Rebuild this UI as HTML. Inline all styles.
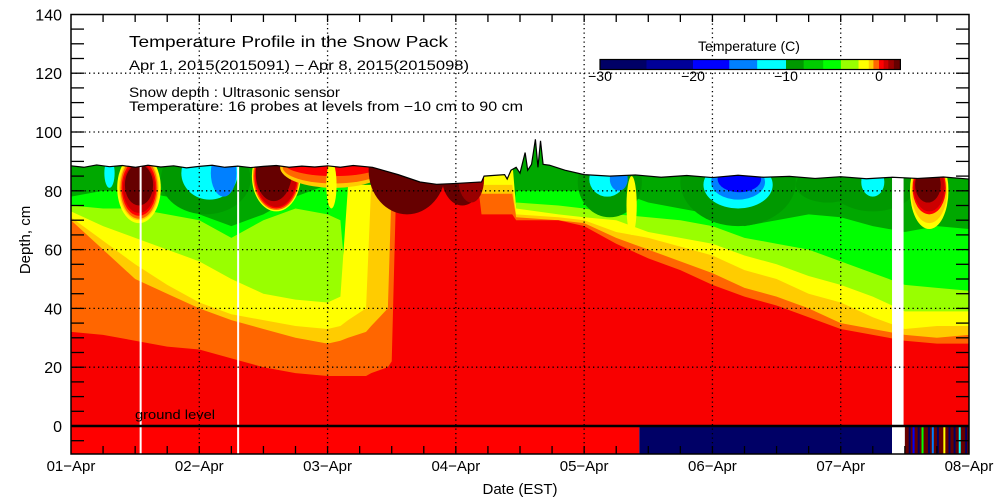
<!DOCTYPE html>
<html><head><meta charset="utf-8"><style>
html,body{margin:0;padding:0;background:#fff;}
svg{display:block;font-family:"Liberation Sans",sans-serif;}
</style></head><body>
<svg id="chart" width="1000" height="500" viewBox="0 0 1000 500" xmlns="http://www.w3.org/2000/svg">
<defs><clipPath id="snowClip"><polygon id="snowClipPoly" points=""/></clipPath></defs>
<g id="field" clip-path="url(#snowClip)"></g>
<g id="below"></g>
<g id="overlay"></g>
<g id="axes"></g>
<text x="129" y="47" font-size="16" textLength="319" lengthAdjust="spacingAndGlyphs">Temperature Profile in the Snow Pack</text>
<text x="129" y="70" font-size="14" textLength="340" lengthAdjust="spacingAndGlyphs">Apr  1, 2015(2015091) − Apr  8, 2015(2015098)</text>
<text x="129" y="97" font-size="13.5" textLength="211" lengthAdjust="spacingAndGlyphs">Snow depth : Ultrasonic sensor</text>
<text x="129" y="111" font-size="13.5" textLength="394" lengthAdjust="spacingAndGlyphs">Temperature: 16 probes at levels from −10 cm to 90 cm</text>
<text x="135" y="419" font-size="13" textLength="80" lengthAdjust="spacingAndGlyphs">ground level</text>
<text x="520" y="494" font-size="15" text-anchor="middle">Date (EST)</text>
<text x="30" y="240" font-size="15" text-anchor="middle" transform="rotate(-90 30 240)">Depth, cm</text>
<g id="legend">
<text x="749" y="51" font-size="14" text-anchor="middle">Temperature (C)</text>
</g>
</svg>
<script>
// ---- data ----
const palette = ["#000066","#000099","#0000ff","#0080ff","#00ffff","#009900","#00cc00","#00ff00","#99ff00","#ffff00","#ffcc00","#ff6600","#ff0000","#cc0000","#990000","#660000"];
const legendBounds = [-30,-25,-20,-16.1,-13.1,-10,-8.1,-6,-4.1,-2.2,-1.1,-0.6,0,0.5,1,1.6,2.3];
const legendTicks = [-30,-20,-10,0];
const dayLabels = ["01-Apr","02-Apr","03-Apr","04-Apr","05-Apr","06-Apr","07-Apr","08-Apr"];
const depthTicks = [0,20,40,60,80,100,120,140];
// snow surface (days, cm)
const surfT = [0,0.1,0.2,0.3,0.4,0.5,0.6,0.7,0.8,0.9,1,1.1,1.2,1.3,1.4,1.5,1.6,1.7,1.8,1.9,2,2.1,2.2,2.35,2.55,2.72,2.85,3.0,3.2,3.22,3.38,3.4,3.43,3.47,3.5,3.54,3.56,3.59,3.62,3.64,3.66,3.68,3.73,3.85,4.0,4.2,4.4,4.6,4.8,5,5.2,5.4,5.6,5.8,6,6.2,6.4,6.6,6.8,7];
const surfD = [88.5,88,88.8,88.2,88.6,88,88.7,88.1,88.5,87.8,88.3,88.7,88,88.4,87.9,88.3,88.6,88,88.4,88.1,88.5,88,88.6,88,85.5,83,82.2,82.5,83,85,85.5,84,87,88,86,93,87,89,97.5,88,97,89,88.7,87,85.5,85,85.4,84.6,85.2,84.5,85.3,84.6,84.9,84.2,84.8,84.1,84.6,84.2,84.7,84];
// isotherm layer tops (cm) at times layerT (days)
const layerT    = [0, 0.25,0.5,0.75,1, 1.25,1.5,1.75,2, 2.1,2.16,2.3,2.34,2.47,2.5,2.54,3.15,3.2,3.44,3.47,3.8,4, 4.25,4.5,4.75,5, 5.25,5.5,5.75,6, 6.25,6.5,6.75,7];
const topGreen  = [78,80, 80, 78, 72,68, 72, 78, 82,82, 82, 82, 82, 82, 82, 90, 90, 72, 72, 80, 80, 80,80, 76, 74, 72,68, 70, 72, 71,68, 66, 68, 67];
const topLime   = [75,74, 74, 72, 70,64, 70, 74, 72,70, 40, 40, 40, 40, 40, 90, 90, 72, 72, 76, 75, 74,72, 71, 70, 68,64, 62, 60, 56,52, 48, 47, 46];
const topYellow = [73,68, 64, 60, 56,50, 45, 43, 42,44, 82, 82, 82, 82, 82, 90, 90, 90, 90, 74, 72, 71,70, 66, 64, 62,58, 55, 51, 48,44, 39, 39, 39];
const topGold   = [71,63, 55, 48, 42,38, 36, 34, 33,34, 36, 40, 82, 82, 82, 90, 90, 82, 82, 72, 71, 70,66, 64, 61, 58,53, 50, 45, 42,37, 33, 34, 34];
const topOrange = [70,60, 50, 45, 40,36, 33, 30, 28,29, 30, 32, 34, 40, 82, 90, 90, 79, 79, 71, 70, 69,64, 60, 56, 52,47, 44, 40, 35,33, 31, 30, 31];
const topRed    = [32,31, 29, 27, 26,23, 20, 18, 17,17, 17, 17, 18, 20, 22, 90, 90, 72, 72, 70, 70, 68,62, 57, 53, 48,44, 41, 37, 33,31, 29, 28, 28];
// near-surface anomalies: centre time, centre depth, half-width (days), half-height (cm), colour index
const blobT  = [0.53,0.53,0.53,0.53,0.53,0.53,0.3, 1.05,1.08,1.19, 1.6,1.6,1.6,1.6,1.58, 2.05,2.05,2.05,2.03, 2.62,3.05,3.12, 4.2,4.18,4.27,4.37, 5.2,5.2,5.2,5.21, 5.9,6.25,6.25, 6.69,6.69,6.69,6.69,6.68];
const blobD  = [81,81,81,81,81,82,86, 84,86,86, 85,85,85,85,86, 88,88,89,82, 87,85,84, 83,84,84,75, 83,82,83,84, 82,83,83, 80,80,81,81,82];
const blobRT = [0.17,0.155,0.145,0.135,0.125,0.11,0.04, 0.35,0.22,0.1, 0.19,0.18,0.17,0.16,0.14, 0.42,0.4,0.38,0.04, 0.3,0.16,0.1, 0.25,0.14,0.07,0.04, 0.45,0.27,0.21,0.17, 0.25,0.35,0.09, 0.15,0.14,0.13,0.12,0.1];
const blobRD = [12,11,10.5,9.5,8.5,7,5, 12,9,8, 12,11.5,11,10.5,9.5, 7,5.5,4,8, 15,10,8, 12,6,4,10, 15,8,6,4.5, 6,10,5, 13,11,9,8,6];
const blobC  = [9,10,11,12,13,15,4, 5,4,3, 9,11,12,13,15, 10,11,12,9, 15,15,14, 5,4,3,9, 5,4,3,2, 5,5,4, 9,10,12,13,15];
// below-ground segments (start day, end day, colour index)
const groundStart = [0,4.43,6.5];
const groundEnd   = [4.43,6.4,7];
const groundColor = [12,0,15];
const stripeT = [6.53,6.56,6.6,6.63,6.68,6.71,6.75,6.8,6.84,6.88,6.92,6.97];
const stripeC = [0,2,0,7,0,3,0,9,0,0,4,0];
const gapStart = [0.535,1.295,6.4];
const gapEnd   = [0.545,1.305,6.49];

// ---- scales ----
const X0=71, X1=969, Y0=426, PX_CM=2.94;
const xs = t => X0 + t*(X1-X0)/7;
const ys = d => Y0 - d*PX_CM;
const NS="http://www.w3.org/2000/svg";
function mk(tag, attrs, parent){const e=document.createElementNS(NS,tag);for(const k in attrs)e.setAttribute(k,attrs[k]);parent.appendChild(e);return e;}
function surfAt(t){for(let i=1;i<surfT.length;i++){if(surfT[i]>=t){const f=(t-surfT[i-1])/(surfT[i]-surfT[i-1]);return surfD[i-1]+f*(surfD[i]-surfD[i-1]);}}return surfD[surfD.length-1];}

let clipPts = surfT.map((t,i)=>xs(t)+","+ys(surfD[i]));
clipPts.push(xs(7)+","+Y0, xs(0)+","+Y0);
document.getElementById("snowClipPoly").setAttribute("points", clipPts.join(" "));

const field=document.getElementById("field");
const base = mk("rect",{x:X0,y:ys(100),width:X1-X0,height:Y0-ys(100),fill:"#00a800"},field);


const layers=[[topGreen,"#00ff00","layer-minus6"],[topLime,"#99ff00","layer-minus4"],[topYellow,"#ffff00","layer-minus2"],[topGold,"#ffcc00","layer-minus1"],[topOrange,"#ff6600","layer-minus0-5"],[topRed,"#f80000","layer-0"]];
layers.forEach(([arr,col,name])=>{
  let pts=layerT.map((t,i)=>xs(t)+","+ys(arr[i]));
  pts.push(xs(7)+","+Y0, xs(0)+","+Y0);
  const p=mk("polygon",{points:pts.join(" "),fill:col},field);
  
  
});
blobT.forEach((t,i)=>{
  const e=mk("ellipse",{cx:xs(t),cy:ys(blobD[i]),rx:blobRT[i]*(X1-X0)/7,ry:blobRD[i]*PX_CM,fill:palette[blobC[i]]},field);
  
  
});

const below=document.getElementById("below");
groundStart.forEach((s,i)=>{
  const r=mk("rect",{x:xs(s),y:Y0,width:xs(groundEnd[i])-xs(s),height:454-Y0,fill:palette[groundColor[i]]},below);
  
  
});
stripeT.forEach((t,i)=>{
  const r=mk("rect",{x:xs(t),y:Y0,width:2,height:454-Y0,fill:palette[stripeC[i]]},below);
  
  
});

const ov=document.getElementById("overlay");
gapStart.forEach((s,i)=>{
  const top=ys(surfAt(s))-3;
  const r=mk("rect",{x:xs(s),y:top,width:Math.max(2,xs(gapEnd[i])-xs(s)),height:454-top,fill:"#fff"},ov);
  
  
});
depthTicks.forEach(d=>{ if(d===0||d===140) return;
  const l=mk("line",{x1:X0,x2:X1,y1:ys(d),y2:ys(d),stroke:"#000","stroke-width":1.3,"stroke-dasharray":"1.3,3.2"},ov);
  
  
});
dayLabels.forEach((lab,i)=>{ if(i===0||i===7) return;
  const l=mk("line",{x1:xs(i),x2:xs(i),y1:14.5,y2:454,stroke:"#000","stroke-width":1.3,"stroke-dasharray":"1.3,3.2"},ov);
  
  
});
const sl=mk("polyline",{points:surfT.map((t,i)=>xs(t)+","+ys(surfD[i])).join(" "),fill:"none",stroke:"#000","stroke-width":1.2},ov);


const gl=mk("line",{x1:X0,x2:X1,y1:Y0,y2:Y0,stroke:"#000","stroke-width":2.5},ov);



const ax=document.getElementById("axes");
const frame=mk("rect",{x:X0,y:14.5,width:X1-X0,height:454-14.5,fill:"none",stroke:"#000","stroke-width":1.5},ax);


for(let d=-5; d<140; d+=5){
  const a=mk("line",{x1:X0,x2:X0+13,y1:ys(d),y2:ys(d),stroke:"#000","stroke-width":1.3},ax);
  
  
  const b=mk("line",{x1:X1-13,x2:X1,y1:ys(d),y2:ys(d),stroke:"#000","stroke-width":1.3},ax);
  
  
}
for(let h=1; h<28; h++){
  const t=h/4;
  const a=mk("line",{x1:xs(t),x2:xs(t),y1:14.5,y2:22,stroke:"#000","stroke-width":1.3},ax);
  
  
  const b=mk("line",{x1:xs(t),x2:xs(t),y1:446,y2:454,stroke:"#000","stroke-width":1.3},ax);
  
  
}
depthTicks.forEach(d=>{
  const t=mk("text",{x:62,y:ys(d)+6,"font-size":16,"text-anchor":"end"},ax);
  t.textContent=String(d);
  
  
});
dayLabels.forEach((lab,i)=>{
  const t=mk("text",{x:xs(i),y:471,"font-size":15,"text-anchor":"middle"},ax);
  t.textContent=lab.replace("-","−");
  
  
});

const lg=document.getElementById("legend");
const LX=v=>879+v*9.3;
palette.forEach((c,i)=>{
  const r=mk("rect",{x:LX(legendBounds[i]),y:59.5,width:LX(legendBounds[i+1])-LX(legendBounds[i])+0.5,height:10,fill:c},lg);
  
  
});
const lf=mk("rect",{x:LX(-30),y:59.5,width:LX(2.3)-LX(-30),height:10,fill:"none",stroke:"#000","stroke-width":1.2},lg);


legendTicks.forEach(v=>{
  const t=mk("text",{x:LX(v),y:81,"font-size":14,"text-anchor":"middle"},lg);
  t.textContent=v<0?"−"+Math.abs(v):String(v);
  
  
});
</script>
</body></html>
